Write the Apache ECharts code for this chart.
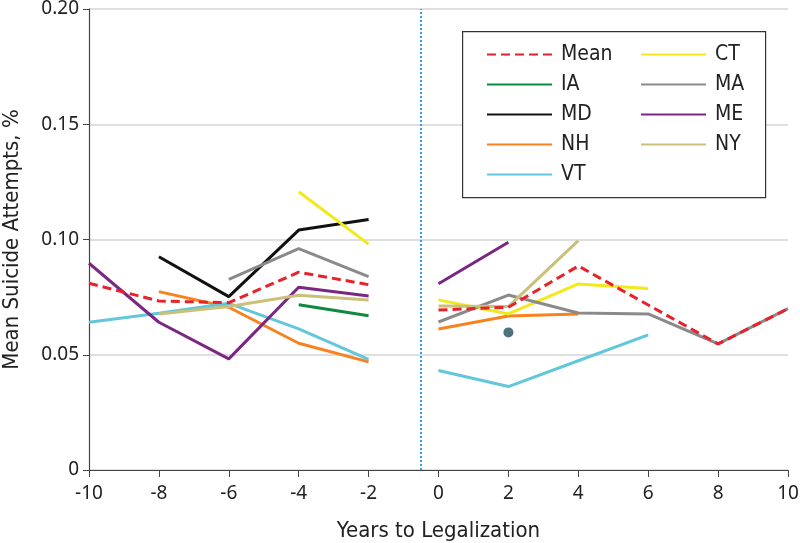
<!DOCTYPE html>
<html>
<head>
<meta charset="utf-8">
<script src="https://cdn.jsdelivr.net/npm/echarts@6/dist/echarts.min.js"></script>
<style>html,body{margin:0;padding:0;background:#fff;}#chart{width:800px;height:543px;}</style>
</head>
<body>
<div id="chart"></div>
<script>
// Years relative to legalization
var preYears = [-10, -8, -6, -4, -2];
var postYears = [0, 2, 4, 6, 8, 10];
var yTicks = [0, 0.05, 0.10, 0.15, 0.20];
var xTicks = [-10, -8, -6, -4, -2, 0, 2, 4, 6, 8, 10];
var legalizationLine = -0.5;

// Series values (null = no data)
var meanPre  = [0.081, 0.0733, 0.0726, 0.0858, 0.0804];
var meanPost = [0.0694, 0.0706, 0.0885, 0.0716, 0.0547, 0.070];
var iaPre    = [null, null, null, 0.0717, 0.0669];
var iaPost   = [null, null, null, null, null, null];
var iaDot    = [[2, 0.0597]];
var mdPre    = [null, 0.0925, 0.0752, 0.1041, 0.1087];
var mdPost   = [null, null, null, null, null, null];
var nhPre    = [null, 0.0774, 0.0706, 0.055, 0.0469];
var nhPost   = [0.0612, 0.0668, 0.0677, null, null, null];
var vtPre    = [0.0641, 0.068, 0.0723, 0.0612, 0.048];
var vtPost   = [0.0432, 0.0362, 0.0474, 0.0586, null, null];
var ctPre    = [null, null, null, 0.1207, 0.098];
var ctPost   = [0.0738, 0.0677, 0.0807, 0.0787, null, null];
var maPre    = [null, null, 0.0827, 0.096, 0.0839];
var maPost   = [0.0642, 0.0759, 0.0681, 0.0677, 0.0547, 0.070];
var mePre    = [0.0897, 0.0641, 0.0482, 0.0793, 0.0755];
var mePost   = [0.0808, 0.0988, null, null, null, null];
var nyPre    = [null, 0.0677, 0.0709, 0.0758, 0.0738];
var nyPost   = [0.0711, 0.0709, 0.0995, null, null, null];

function build(pre, post) {
  var d = [];
  preYears.forEach(function (x, i) { d.push([x, pre[i] == null ? '-' : pre[i]]); });
  d.push([-1, '-']);
  postYears.forEach(function (x, i) { d.push([x, post[i] == null ? '-' : post[i]]); });
  return d;
}

var defs = [
  {name: 'IA', pre: iaPre, post: iaPost, color: '#0c8a40'},
  {name: 'MD', pre: mdPre, post: mdPost, color: '#111111'},
  {name: 'NH', pre: nhPre, post: nhPost, color: '#f7821f'},
  {name: 'VT', pre: vtPre, post: vtPost, color: '#62c7da'},
  {name: 'CT', pre: ctPre, post: ctPost, color: '#f2e81a'},
  {name: 'MA', pre: maPre, post: maPost, color: '#8a8a8a'},
  {name: 'ME', pre: mePre, post: mePost, color: '#7a2784'},
  {name: 'NY', pre: nyPre, post: nyPost, color: '#c9c07a'}
];

var series = defs.map(function (s) {
  return {
    name: s.name, type: 'line', data: build(s.pre, s.post),
    symbol: 'none', connectNulls: false, silent: true,
    color: s.color,
    lineStyle: {color: s.color, width: 3}
  };
});
series.push({
  name: 'IA point', type: 'scatter', data: iaDot, symbol: 'circle', symbolSize: 10,
  itemStyle: {color: '#23505e'}, silent: true
});
series.push({
  name: 'Mean', type: 'line', data: build(meanPre, meanPost),
  symbol: 'none', connectNulls: false, silent: true, color: '#e8212b',
  lineStyle: {color: '#e8212b', width: 3, type: [9, 5]},
  z: 5,
  markLine: {
    silent: true, symbol: 'none', label: {show: false},
    lineStyle: {color: '#2aa7d6', width: 2, type: [2, 2]},
    data: [{xAxis: legalizationLine}]
  }
});

var font = "'Liberation Sans Narrow', 'DejaVu Sans Condensed', 'Liberation Sans', sans-serif";
var tickFont = "'Noto Sans', 'Liberation Sans', sans-serif";

var legendCommon = {
  orient: 'vertical', top: 44, z: 20, padding: 0,
  itemWidth: 65, itemHeight: 14, itemGap: 9,
  itemStyle: {opacity: 0},
  textStyle: {fontFamily: font, fontSize: 21, color: '#222', padding: [0, 0, 0, 4]},
  selectedMode: false
};

var chart = echarts.init(document.getElementById('chart'), null, {renderer: 'canvas'});
chart.setOption({
  animation: false,
  backgroundColor: '#ffffff',
  grid: {left: 89, right: 12, top: 9, bottom: 73, containLabel: false, outerBoundsMode: 'none'},
  xAxis: {
    type: 'value', min: -10, max: 10, interval: 2,
    name: 'Years to Legalization', nameLocation: 'middle', nameGap: 50,
    nameTextStyle: {fontFamily: font, fontSize: 22, color: '#222'},
    axisLine: {show: true, onZero: false, lineStyle: {color: '#444', width: 1.2}},
    axisTick: {show: true, length: 7, lineStyle: {color: '#444'}},
    axisLabel: {fontFamily: tickFont, fontSize: 19, color: '#222', margin: 14,
      formatter: function (v) { return xTicks.indexOf(v) >= 0 ? String(v) : ''; }},
    splitLine: {show: false}
  },
  yAxis: {
    type: 'value', min: 0, max: 0.2, interval: 0.05,
    name: 'Mean Suicide Attempts, %', nameLocation: 'middle', nameGap: 66,
    nameTextStyle: {fontFamily: font, fontSize: 22, color: '#222'},
    axisLine: {show: true, onZero: false, lineStyle: {color: '#444', width: 1.2}},
    axisTick: {show: true, length: 6, lineStyle: {color: '#444'}},
    axisLabel: {fontFamily: tickFont, fontSize: 19, color: '#222', margin: 10,
      formatter: function (v) {
        var t = yTicks.filter(function (k) { return Math.abs(k - v) < 1e-9; });
        if (!t.length) return '';
        return v === 0 ? '0' : v.toFixed(2);
      }},
    splitLine: {show: true, lineStyle: {color: '#d4d4d4', width: 1.5}}
  },
  graphic: [{
    type: 'rect', left: 462, top: 31, z: 10,
    shape: {width: 303, height: 166},
    style: {fill: '#ffffff', stroke: '#333', lineWidth: 1.2}
  }],
  legend: [
    Object.assign({}, legendCommon, {data: ['Mean', 'IA', 'MD', 'NH', 'VT'], left: 486}),
    Object.assign({}, legendCommon, {data: ['CT', 'MA', 'ME', 'NY'], left: 640})
  ],
  series: series
});
</script>
</body>
</html>
